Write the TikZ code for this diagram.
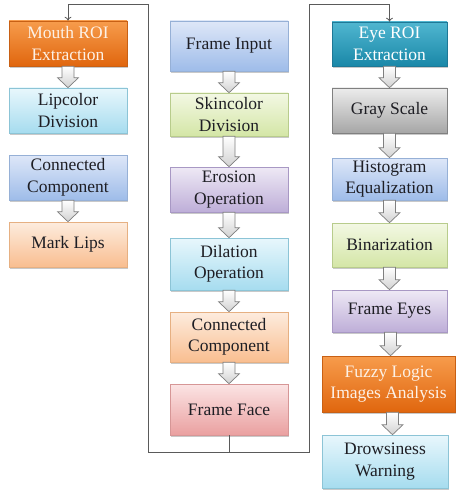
\documentclass[tikz,border=0pt]{standalone}
\usepackage{fontspec}
\setmainfont{Liberation Serif}
\newfontfamily\stagefont{Liberation Serif}
\usetikzlibrary{calc,shadows,arrows.meta}

% gradient palette of the stages
\definecolor{txtdark}{HTML}{1E1E24}
\definecolor{txtlight}{HTML}{FDF1E6}
\definecolor{linkgray}{HTML}{5A5A5A}
\definecolor{arrowedge}{HTML}{7F7F7F}

\tikzset{
  stagebox/.style={rectangle, align=center, inner sep=2pt,
    minimum width=118pt, minimum height=45pt,
    font=\stagefont\fontsize{17.5}{21.5}\selectfont, text=txtdark, line width=0.6pt,
    drop shadow={shadow xshift=1.2pt, shadow yshift=-1.6pt, opacity=0.3, fill=black!70}},
  cblue/.style={top color={rgb,255:red,222;green,231;blue,248}, bottom color={rgb,255:red,158;green,188;blue,233}, draw={rgb,255:red,150;green,176;blue,214}},
  ccyan/.style={top color={rgb,255:red,232;green,247;blue,252}, bottom color={rgb,255:red,166;green,220;blue,239}, draw={rgb,255:red,140;green,196;blue,214}},
  cgreen/.style={top color={rgb,255:red,243;green,248;blue,228}, bottom color={rgb,255:red,212;green,230;blue,166}, draw={rgb,255:red,184;green,204;blue,140}},
  cpurple/.style={top color={rgb,255:red,238;green,233;blue,245}, bottom color={rgb,255:red,190;green,174;blue,216}, draw={rgb,255:red,168;green,152;blue,196}},
  cpeach/.style={top color={rgb,255:red,253;green,236;blue,222}, bottom color={rgb,255:red,249;green,190;blue,144}, draw={rgb,255:red,230;green,176;blue,130}},
  cpink/.style={top color={rgb,255:red,251;green,228;blue,228}, bottom color={rgb,255:red,234;green,160;blue,160}, draw={rgb,255:red,214;green,150;blue,150}},
  cgray/.style={top color={rgb,255:red,236;green,236;blue,236}, bottom color={rgb,255:red,166;green,166;blue,166}, draw={rgb,255:red,128;green,128;blue,128}},
  corange/.style={top color={rgb,255:red,247;green,156;blue,76}, bottom color={rgb,255:red,224;green,102;blue,14}, draw={rgb,255:red,200;green,96;blue,20}, text=txtlight},
  cteal/.style={top color={rgb,255:red,80;green,182;blue,208}, bottom color={rgb,255:red,26;green,136;blue,168}, draw={rgb,255:red,30;green,120;blue,150}, text=white},
  blockarrow/.style={draw=arrowedge, line width=0.7pt, top color=white, bottom color=black!18,
    to path={let \p1=(\tikztostart), \p2=(\tikztotarget) in
      (\x1-6pt,\y1) -- (\x1+6pt,\y1) -- (\x1+6pt,\y2+10pt) -- (\x1+10.5pt,\y2+10pt)
      -- (\x1,\y2) -- (\x1-10.5pt,\y2+10pt) -- (\x1-6pt,\y2+10pt) -- cycle}},
  link/.style={draw=linkgray, line width=0.8pt},
  linkarrow/.style={link, -{To[length=4pt,width=7pt]}}
}

\begin{document}
\begin{tikzpicture}[x=1pt,y=-1pt]
\useasboundingbox (0,0) rectangle (456,492);

% mouth branch
\node[stagebox, corange] (mouth) at (68,43.5) {Mouth ROI\\Extraction};
\node[stagebox, ccyan]   (lip)   at (68,110.5) {Lipcolor\\Division};
\node[stagebox, cblue]   (conl)  at (68,177.5) {Connected\\Component};
\node[stagebox, cpeach]  (lips)  at (68,244.5) {Mark Lips};

% face detection chain
\node[stagebox, cblue, minimum height=50pt]   (input) at (229,46)    {Frame Input};
\node[stagebox, cgreen, minimum height=43pt]  (skin)  at (229,114.5) {Skincolor\\Division};
\node[stagebox, cpurple]                      (eros)  at (229,189.5) {Erosion\\Operation};
\node[stagebox, ccyan, minimum height=52pt]   (dila)  at (229,264)   {Dilation\\Operation};
\node[stagebox, cpeach, minimum height=50pt]  (conc)  at (229,337)   {Connected\\Component};
\node[stagebox, cpink, minimum height=51pt]   (face)  at (229,409.5) {Frame Face};

% eye branch
\node[stagebox, cteal, minimum width=115pt, minimum height=44pt]   (eye)   at (389.5,44)  {Eye ROI\\Extraction};
\node[stagebox, cgray, minimum width=115pt]                        (gray)  at (389.5,110.5) {Gray Scale};
\node[stagebox, cblue, minimum width=115pt, minimum height=42pt]   (hist)  at (389.5,179) {Histogram\\Equalization};
\node[stagebox, cgreen, minimum width=115pt, minimum height=44pt]  (bina)  at (389.5,245) {Binarization};
\node[stagebox, cpurple, minimum width=115pt, minimum height=42pt] (feyes) at (389.5,311) {Frame Eyes};
\node[stagebox, corange, minimum width=133pt, minimum height=56pt] (fuzzy) at (388.5,384) {Fuzzy Logic\\Images Analysis};
\node[stagebox, ccyan, minimum width=126pt, minimum height=53pt]   (warn)  at (385,461.5) {Drowsiness\\Warning};

% block arrows between stages
\draw[blockarrow] (mouth.south) to (lip.north);
\draw[blockarrow] (conl.south) to (lips.north);
\draw[blockarrow] (input.south) to (skin.north);
\draw[blockarrow] (skin.south) to (eros.north);
\draw[blockarrow] (eros.south) to (dila.north);
\draw[blockarrow] (dila.south) to (conc.north);
\draw[blockarrow] (conc.south) to (face.north);
\draw[blockarrow] (eye.south) to (gray.north);
\draw[blockarrow] (gray.south) to (hist.north);
\draw[blockarrow] (hist.south) to (bina.north);
\draw[blockarrow] (bina.south) to (feyes.north);
\draw[blockarrow] ([xshift=1pt]feyes.south) to ([xshift=1pt]fuzzy.north);
\draw[blockarrow] ([xshift=4pt]fuzzy.south) to ([xshift=4pt]warn.north);

% feedback lines from the face frame to both ROI branches
\coordinate (jn) at (229,452);
\coordinate (bl) at (148,452);
\coordinate (tl) at (148,4);
\coordinate (br) at (309,452);
\coordinate (tr) at (309,4);
\draw[link] (face.south) -- (jn);
\draw[linkarrow] (jn) -- (bl) -- (tl) -| (mouth.north);
\draw[linkarrow] (jn) -- (br) -- (tr) -| (eye.north);
\end{tikzpicture}
\end{document}
